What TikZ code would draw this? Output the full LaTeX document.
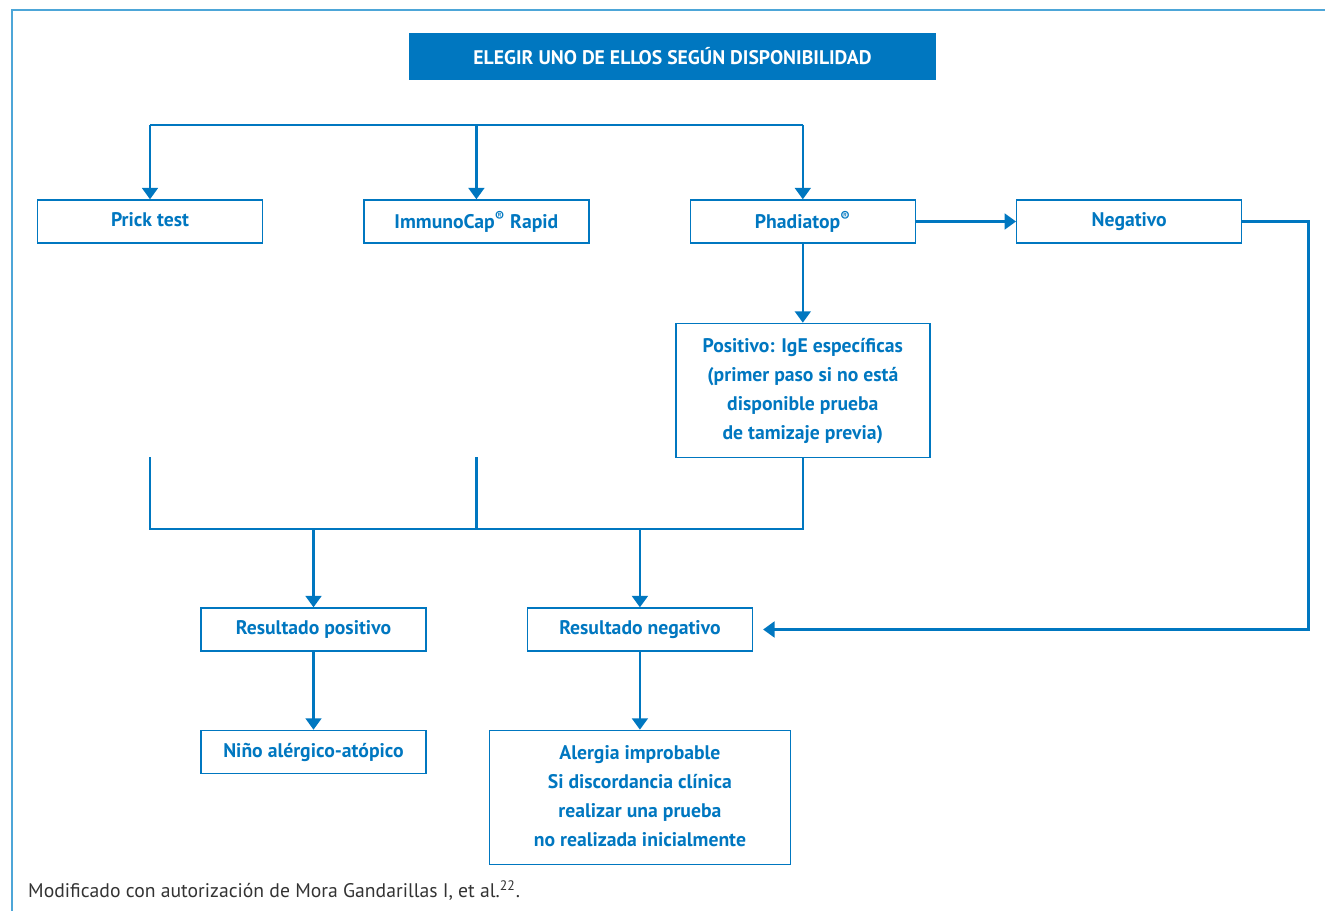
\documentclass[tikz,border=0pt]{standalone}
\usepackage{fontspec}
\setmainfont{PT Sans}
\usetikzlibrary{arrows.meta, positioning}
\definecolor{azul}{HTML}{0077C0}
\definecolor{marco}{HTML}{4DA6D8}
\definecolor{nota}{HTML}{333333}

\begin{document}
\begin{tikzpicture}[
    node distance=2.0cm,
    font=\fontsize{11.2}{16.4}\selectfont\bfseries,
    caja/.style={rectangle, draw=azul, line width=0.8pt, text=azul, align=center, minimum width=4.5cm, minimum height=0.86cm, inner sep=2pt, text depth=0.35ex},
    titulo/.style={rectangle, fill=azul, text=white, align=center, minimum width=10.54cm, minimum height=0.94cm},
    flecha/.style={-{Triangle[length=6.5pt, width=9pt]}, draw=azul, line width=1.4pt},
    linea/.style={draw=azul, line width=1.4pt}
]

% Frame
\useasboundingbox (0,0) rectangle (26.5,-18.22);
\draw[marco, line width=1.2pt] (0.24,-18.22) -- (0.24,-0.2) -- (26.5,-0.2);

% Nodes
\node[titulo] (elegir) at (13.45,-1.13) {ELEGIR UNO DE ELLOS SEGÚN DISPONIBILIDAD};

\node[caja] (prick) at (3.0,-4.43) {Prick test};
\node[caja, right=2.0cm of prick] (immuno) {ImmunoCap\textsuperscript{®} Rapid};
\node[caja, right=2.0cm of immuno] (phadia) {Phadiatop\textsuperscript{®}};
\node[caja, right=2.0cm of phadia] (negativo) {Negativo};

\node[caja, minimum width=5.08cm, minimum height=2.68cm, below=1.58cm of phadia] (positivo) {Positivo: IgE específicas\\(primer paso si no está\\disponible prueba\\de tamizaje previa)};

\node[caja] (respos) at (6.27,-12.59) {Resultado positivo};
\node[caja, right=2.0cm of respos] (resneg) {Resultado negativo};
\node[caja, below=1.56cm of respos] (alergico) {Niño alérgico-atópico};
\node[caja, minimum width=6.02cm, minimum height=2.68cm, below=1.56cm of resneg] (improbable) {Alergia improbable\\Si discordancia clínica\\realizar una prueba\\no realizada inicialmente};

\node[anchor=base west, font=\fontsize{11.2}{13}\selectfont, text=nota] (fuente) at (0.44,-17.94) {Modificado con autorización de Mora Gandarillas I, et al.\textsuperscript{22}.};

% Junction points
\coordinate (barra) at (0,-2.5);
\coordinate (tope) at (0,-9.14);
\coordinate (junta) at (0,-10.58);
\coordinate (esquina) at ([xshift=1.32cm]negativo.east);

% Arrows
\draw[linea] (prick.center |- barra) -- (phadia.center |- barra);
\foreach \n in {prick, immuno, phadia}
    \draw[flecha] (\n.center |- barra) -- (\n.north);
\draw[flecha] (phadia) -- (negativo);
\draw[flecha] (phadia) -- (positivo);
\draw[linea] (prick.center |- tope) -- (prick.center |- junta) -- (positivo.south |- junta) -- (positivo.south);
\draw[linea] (immuno.center |- tope) -- (immuno.center |- junta);
\draw[flecha] (respos.center |- junta) -- (respos);
\draw[flecha] (resneg.center |- junta) -- (resneg);
\draw[flecha] (respos) -- (alergico);
\draw[flecha] (resneg) -- (improbable);
\draw[flecha] (negativo.east) -- (esquina) |- ([xshift=0.2cm]resneg.east);

\end{tikzpicture}
\end{document}
